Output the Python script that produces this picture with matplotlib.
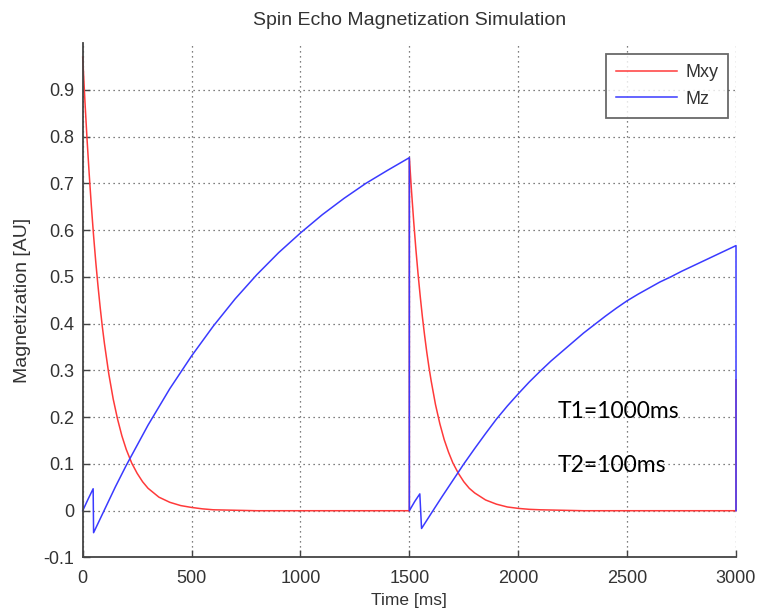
import matplotlib
matplotlib.use("Agg")
import matplotlib.pyplot as plt

# ---------------- data ----------------
t_mxy = [0, 10, 20, 30, 40, 50, 60, 70, 80, 90, 100, 120, 140, 160, 180, 200,
         225, 250, 275, 300, 350, 400, 450, 500, 550, 600, 700, 800, 1500,
         1500, 1510, 1520, 1530, 1540, 1550, 1560, 1570, 1580, 1590, 1600,
         1620, 1640, 1660, 1680, 1700, 1725, 1750, 1775, 1800, 1850, 1900,
         1950, 2000, 2050, 2100, 2200, 2300, 3000, 3000]
v_mxy = [0.970, 0.878, 0.794, 0.719, 0.650, 0.588, 0.532, 0.482, 0.436, 0.394,
         0.357, 0.292, 0.239, 0.196, 0.160, 0.131, 0.102, 0.080, 0.062, 0.048,
         0.029, 0.018, 0.011, 0.007, 0.004, 0.002, 0.001, 0.0, 0.0,
         0.755, 0.683, 0.618, 0.559, 0.506, 0.458, 0.414, 0.375, 0.339, 0.307,
         0.278, 0.227, 0.186, 0.152, 0.125, 0.102, 0.080, 0.062, 0.048, 0.038,
         0.023, 0.014, 0.008, 0.005, 0.003, 0.002, 0.001, 0.0, 0.0, 0.28]

t_mz = [0, 25, 48, 50, 100, 150, 200, 300, 400, 500, 600, 700, 800, 900, 1000,
        1100, 1200, 1300, 1400, 1500,
        1500, 1525, 1548, 1556, 1600, 1650, 1700, 1750, 1800, 1850, 1900, 1950,
        2000, 2050, 2100, 2150, 2200, 2250, 2300, 2350, 2400, 2450, 2500, 2550,
        2600, 2650, 2700, 2750, 2800, 2850, 2900, 2950, 3000, 3000]
v_mz = [0.0, 0.025, 0.047, -0.047, 0.002, 0.051, 0.097, 0.183, 0.261, 0.331,
        0.395, 0.453, 0.505, 0.552, 0.594, 0.633, 0.668, 0.700, 0.728, 0.755,
        0.0, 0.020, 0.036, -0.038, -0.006, 0.030, 0.065, 0.100, 0.133, 0.165,
        0.196, 0.224, 0.250, 0.275, 0.298, 0.320, 0.340, 0.360, 0.380, 0.398,
        0.416, 0.433, 0.449, 0.463, 0.476, 0.489, 0.500, 0.512, 0.523, 0.534,
        0.545, 0.556, 0.567, 0.0]

series_labels = ["Mxy", "Mz"]
x_ticks = [0, 500, 1000, 1500, 2000, 2500, 3000]
y_ticks = [-0.1, 0, 0.1, 0.2, 0.3, 0.4, 0.5, 0.6, 0.7, 0.8, 0.9]
y_tick_labels = ["-0.1", "0", "0.1", "0.2", "0.3", "0.4", "0.5", "0.6", "0.7", "0.8", "0.9"]
title = "Spin Echo Magnetization Simulation"
x_label = "Time [ms]"
y_label = "Magnetization [AU]"
notes = ["T1=1000ms", "T2=100ms"]

# ---------------- figure ----------------
plt.rcParams['font.family'] = ['Liberation Sans', 'DejaVu Sans']
fig = plt.figure(figsize=(7.58, 6.16), dpi=100)
ax = fig.add_axes([0.1091, 0.095, 0.8619, 0.835])

txt_col = '#333333'
ax.plot(t_mxy, v_mxy, color='#ff3a3a', lw=1.1, label=series_labels[0], clip_on=False)
ax.plot(t_mz, v_mz, color='#3a3aff', lw=1.1, label=series_labels[1], clip_on=False)

ax.set_xlim(0, 3000)
ax.set_ylim(-0.1, 1.0)
ax.set_xticks(x_ticks)
ax.set_xticklabels([str(x) for x in x_ticks])
ax.set_yticks(y_ticks)
ax.set_yticklabels(y_tick_labels)

for s in ['top', 'right']:
    ax.spines[s].set_visible(False)
for s in ['left', 'bottom']:
    ax.spines[s].set_color('#444444')
    ax.spines[s].set_linewidth(1.3)

ax.tick_params(direction='in', length=5, width=1.0, color='#444444',
               labelsize=13, labelcolor=txt_col)
ax.tick_params(axis='x', pad=9)
ax.tick_params(axis='y', pad=6)
ax.grid(True, color='#555555', linestyle=(0, (1, 3)), linewidth=0.9)

ax.set_title(title, fontsize=14, color=txt_col, pad=13)
ax.set_xlabel(x_label, fontsize=12.5, color=txt_col, labelpad=4)
ax.set_ylabel(y_label, fontsize=14, color=txt_col, labelpad=9)

leg = ax.legend(loc='upper right', bbox_to_anchor=(0.988, 0.979), fontsize=13,
                frameon=True, fancybox=False, edgecolor='#444444',
                handlelength=3.4, borderpad=0.55, labelspacing=0.55,
                handletextpad=0.45, borderaxespad=0.0)
leg.get_frame().set_linewidth(1.3)
for t in leg.get_texts():
    t.set_color(txt_col)

ax.text(2183, 0.213, notes[0], fontsize=16.5, family=['Lato', 'DejaVu Sans'],
        color='black', va='center', ha='left')
ax.text(2183, 0.096, notes[1], fontsize=16.5, family=['Lato', 'DejaVu Sans'],
        color='black', va='center', ha='left')

fig.savefig('out.png', dpi=100)
